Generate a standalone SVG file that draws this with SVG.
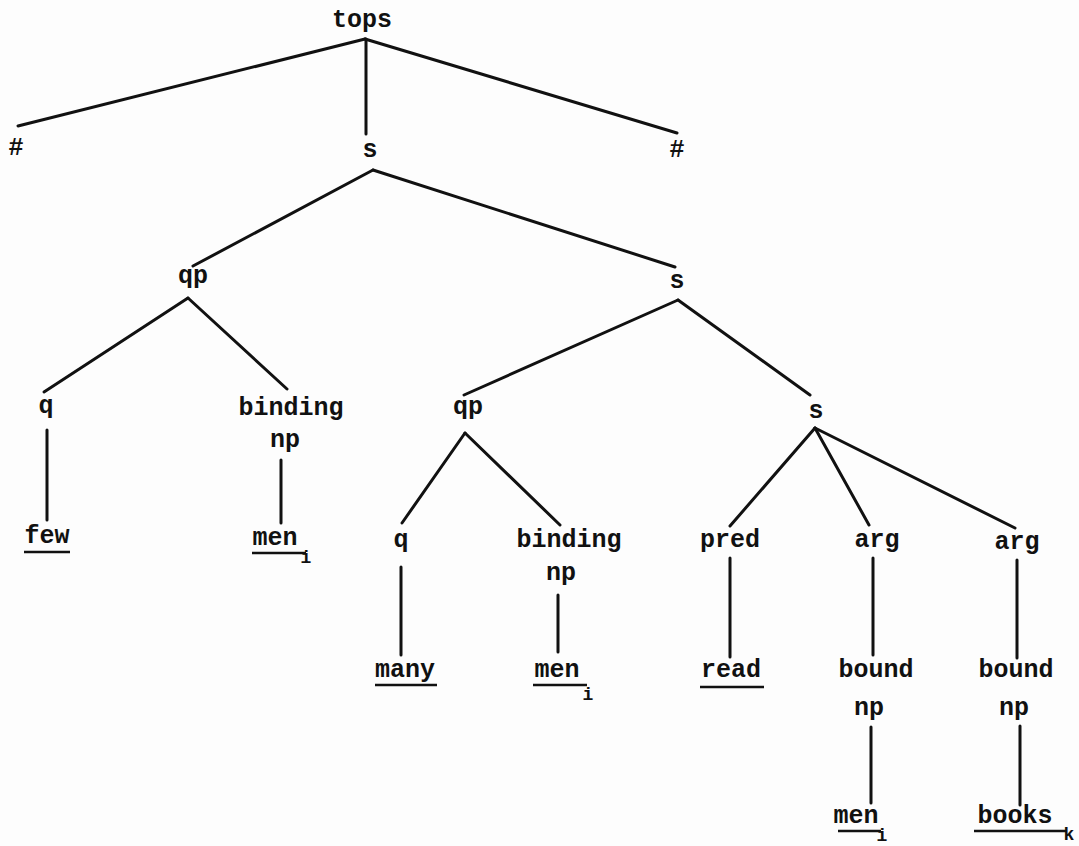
<svg xmlns="http://www.w3.org/2000/svg" width="1079" height="846" viewBox="0 0 1079 846">
<style>
text{font-family:"Liberation Mono","DejaVu Sans Mono",monospace;font-weight:bold;font-size:25px;fill:#111;text-anchor:middle}
text.sub{font-size:18px}
.e line{stroke:#111;stroke-width:3;stroke-linecap:round}
.u{stroke:#111;stroke-width:2.5}
</style>
<rect width="1079" height="846" fill="#fdfdfd"/>
<g id="connectors" class="e">
<line x1="365" y1="39" x2="18" y2="126" stroke-width="4"/>
<line x1="366" y1="39" x2="366" y2="134"/>
<line x1="365" y1="39" x2="677" y2="133" stroke-width="4"/>
<line x1="373" y1="170" x2="193" y2="266"/>
<line x1="373" y1="170" x2="675" y2="267"/>
<line x1="188" y1="298" x2="44" y2="392"/>
<line x1="188" y1="298" x2="287" y2="389"/>
<line x1="678" y1="300" x2="464" y2="395"/>
<line x1="678" y1="300" x2="810" y2="395"/>
<line x1="47" y1="430" x2="47" y2="520"/>
<line x1="281" y1="460" x2="281" y2="523"/>
<line x1="465" y1="433" x2="402" y2="523"/>
<line x1="465" y1="433" x2="560" y2="525"/>
<line x1="815" y1="428" x2="730" y2="526"/>
<line x1="815" y1="428" x2="869" y2="525"/>
<line x1="815" y1="428" x2="1015" y2="528"/>
<line x1="401" y1="567" x2="401" y2="655"/>
<line x1="558" y1="595" x2="558" y2="652"/>
<line x1="730" y1="558" x2="730" y2="657"/>
<line x1="873" y1="558" x2="873" y2="655"/>
<line x1="1017" y1="560" x2="1017" y2="658"/>
<line x1="871" y1="727" x2="871" y2="803"/>
<line x1="1020" y1="726" x2="1020" y2="805"/>
</g>
<g id="n-tops"><text x="362" y="27">tops</text></g>
<g id="n-hash1"><text x="16" y="155" font-size="20">#</text></g>
<g id="n-s1"><text x="370" y="157">s</text></g>
<g id="n-hash2"><text x="677" y="157" font-size="20">#</text></g>
<g id="n-qp1"><text x="193" y="283">qp</text></g>
<g id="n-s2"><text x="677" y="288">s</text></g>
<g id="n-q1"><text x="46" y="413">q</text></g>
<g id="n-binding1"><text x="291" y="415">binding</text><text x="285" y="447">np</text></g>
<g id="n-qp2"><text x="468" y="414">qp</text></g>
<g id="n-s3"><text x="816" y="418">s</text></g>
<g id="n-few"><text x="47" y="543">few</text><line class="u" x1="24" y1="552" x2="70" y2="552"/></g>
<g id="n-men1"><text x="275" y="545">men</text><text class="sub" x="306" y="563">i</text><line class="u" x1="252" y1="553" x2="306" y2="553"/></g>
<g id="n-q2"><text x="401" y="547">q</text></g>
<g id="n-binding2"><text x="569" y="547">binding</text><text x="561" y="580">np</text></g>
<g id="n-pred"><text x="730" y="547">pred</text></g>
<g id="n-arg1"><text x="877" y="547">arg</text></g>
<g id="n-arg2"><text x="1017" y="549">arg</text></g>
<g id="n-many"><text x="405" y="677">many</text><line class="u" x1="375" y1="685" x2="437" y2="685"/></g>
<g id="n-men2"><text x="557" y="677">men</text><text class="sub" x="588" y="700">i</text><line class="u" x1="533" y1="685" x2="587" y2="685"/></g>
<g id="n-read"><text x="731" y="677">read</text><line class="u" x1="700" y1="687" x2="764" y2="687"/></g>
<g id="n-bound1"><text x="876" y="677">bound</text><text x="869" y="715">np</text></g>
<g id="n-bound2"><text x="1016" y="677">bound</text><text x="1014" y="715">np</text></g>
<g id="n-men3"><text x="856" y="823">men</text><text class="sub" x="882" y="841">i</text><line class="u" x1="838" y1="831" x2="881" y2="831"/></g>
<g id="n-books"><text x="1015" y="823">books</text><text class="sub" x="1069" y="840">k</text><line class="u" x1="974" y1="831" x2="1066" y2="831"/></g>
</svg>
